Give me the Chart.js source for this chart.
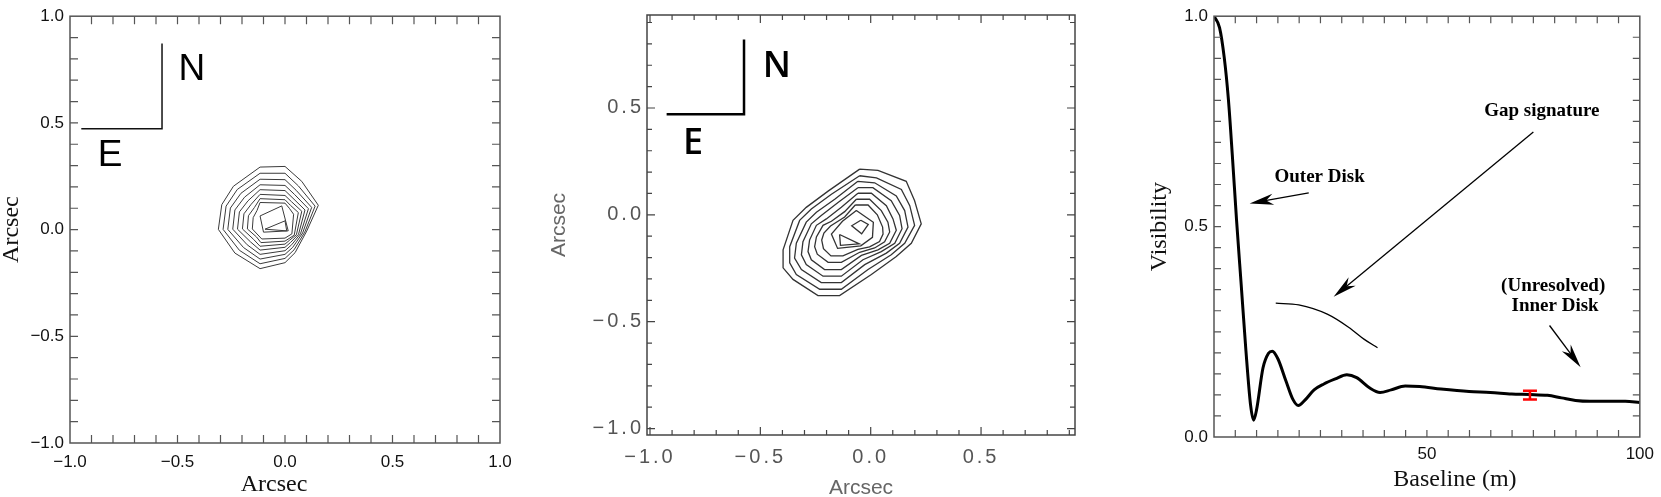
<!DOCTYPE html>
<html>
<head>
<meta charset="utf-8">
<title>Contour maps and visibility curve</title>
<script src="https://cdn.jsdelivr.net/npm/chart.js@4.4.1/dist/chart.umd.min.js"></script>
<style>
  html, body { margin: 0; padding: 0; background: #fff; }
  body { position: relative; width: 1661px; height: 497px; overflow: hidden; }
  canvas { position: absolute; top: 0; }
</style>
</head>
<body>
<canvas id="left" width="540" height="497" style="left:0"></canvas>
<canvas id="middle" width="540" height="497" style="left:540px"></canvas>
<canvas id="right" width="581" height="497" style="left:1080px"></canvas>
<script>
// ---- left map, arcsec ----
const leftTicks = [-1.0, -0.5, 0.0, 0.5, 1.0];
const leftMinor = [-0.9, -0.8, -0.7, -0.6, -0.5, -0.4, -0.3, -0.2, -0.1, 0.0,
                   0.1, 0.2, 0.3, 0.4, 0.5, 0.6, 0.7, 0.8, 0.9];
const leftContours = [
  [[-0.116, 0.293], [0, 0.296], [0.078, 0.226], [0.155, 0.114], [0.101, -0.007], [0.047, -0.108],
   [0, -0.155], [-0.116, -0.183], [-0.233, -0.110], [-0.310, 0.001], [-0.294, 0.117], [-0.240, 0.203]],
  [[-0.116, 0.264], [0, 0.264], [0.062, 0.205], [0.140, 0.110], [0.092, -0.012], [0.042, -0.095],
   [0, -0.135], [-0.116, -0.160], [-0.212, -0.097], [-0.288, 0.001], [-0.274, 0.110], [-0.222, 0.188]],
  [[-0.116, 0.236], [0, 0.234], [0.052, 0.184], [0.124, 0.104], [0.082, -0.016], [0.036, -0.083],
   [0, -0.116], [-0.116, -0.138], [-0.193, -0.084], [-0.266, 0.001], [-0.254, 0.101], [-0.205, 0.170]],
  [[-0.116, 0.210], [0, 0.207], [0.044, 0.165], [0.109, 0.098], [0.072, -0.020], [0.031, -0.071],
   [0, -0.099], [-0.116, -0.116], [-0.176, -0.071], [-0.243, 0.002], [-0.233, 0.092], [-0.188, 0.152]],
  [[-0.116, 0.187], [0, 0.183], [0.037, 0.147], [0.093, 0.092], [0.063, -0.022], [0.026, -0.060],
   [0, -0.083], [-0.116, -0.096], [-0.160, -0.058], [-0.221, 0.002], [-0.212, 0.083], [-0.172, 0.135]],
  [[-0.116, 0.165], [0, 0.160], [0.031, 0.130], [0.078, 0.086], [0.053, -0.024], [0.021, -0.050],
   [0, -0.068], [-0.116, -0.078], [-0.146, -0.046], [-0.198, 0.003], [-0.191, 0.074], [-0.157, 0.119]],
  [[-0.116, 0.145], [0, 0.140], [0.025, 0.114], [0.062, 0.080], [0.043, -0.026], [0, -0.054],
   [-0.112, -0.061], [-0.133, -0.034], [-0.175, 0.003], [-0.170, 0.065], [-0.142, 0.104]],
  [[-0.116, 0.127], [0, 0.124], [0.020, 0.100], [0.040, 0.072], [0.032, -0.020], [0, -0.040],
   [-0.108, -0.044], [-0.152, 0.003], [-0.148, 0.056], [-0.130, 0.090]],
  [[-0.116, 0.064], [-0.015, 0.111], [0.015, -0.006], [-0.100, -0.012]],
  [[-0.093, 0.002], [0, 0.041], [0.008, -0.006]]
];
const leftCompass = [[-0.944, 0.473], [-0.572, 0.473], [-0.572, 0.869]];
const leftCompassLabels = [['N', -0.433, 0.748], ['E', -0.814, 0.347]];

// ---- middle map, arcsec ----
const midTicks = [-1.0, -0.5, 0.0, 0.5];
const midMinor = [-1.0, -0.9, -0.8, -0.7, -0.6, -0.5, -0.4, -0.3, -0.2, -0.1, 0.0,
                  0.1, 0.2, 0.3, 0.4, 0.5, 0.6, 0.7, 0.8, 0.9];
const midContours = [
  [[-0.050, 0.214], [0.033, 0.208], [0.161, 0.157], [0.199, 0.066], [0.229, -0.042], [0.184, -0.133],
   [0.116, -0.195], [0.003, -0.279], [-0.141, -0.378], [-0.239, -0.378], [-0.352, -0.302], [-0.397, -0.248],
   [-0.397, -0.164], [-0.352, -0.026], [-0.292, 0.035], [-0.193, 0.111]],
  [[-0.050, 0.183], [0.026, 0.173], [0.139, 0.119], [0.177, 0.043], [0.199, -0.049], [0.154, -0.133],
   [0.093, -0.187], [-0.012, -0.256], [-0.133, -0.348], [-0.231, -0.348], [-0.337, -0.279], [-0.367, -0.225],
   [-0.367, -0.149], [-0.322, -0.026], [-0.269, 0.027], [-0.178, 0.096]],
  [[-0.058, 0.157], [0.018, 0.150], [0.116, 0.088], [0.154, 0.020], [0.169, -0.057], [0.131, -0.133],
   [0.071, -0.179], [-0.027, -0.233], [-0.133, -0.317], [-0.224, -0.317], [-0.314, -0.256], [-0.345, -0.202],
   [-0.337, -0.133], [-0.292, -0.034], [-0.246, 0.012], [-0.163, 0.073]],
  [[-0.058, 0.127], [0.010, 0.127], [0.093, 0.066], [0.131, -0.003], [0.142, -0.065], [0.109, -0.133],
   [0.048, -0.172], [-0.035, -0.210], [-0.133, -0.287], [-0.216, -0.287], [-0.292, -0.233], [-0.314, -0.187],
   [-0.307, -0.126], [-0.269, -0.042], [-0.224, -0.003], [-0.148, 0.058]],
  [[-0.058, 0.101], [0.003, 0.101], [0.071, 0.043], [0.101, -0.019], [0.116, -0.072], [0.086, -0.133],
   [0.033, -0.164], [-0.042, -0.190], [-0.133, -0.256], [-0.209, -0.256], [-0.269, -0.210], [-0.284, -0.172],
   [-0.277, -0.118], [-0.246, -0.049], [-0.201, -0.019], [-0.133, 0.035]],
  [[-0.065, 0.073], [-0.005, 0.073], [0.048, 0.020], [0.078, -0.034], [0.086, -0.080], [0.063, -0.126],
   [0.018, -0.155], [-0.050, -0.175], [-0.133, -0.222], [-0.193, -0.222], [-0.242, -0.184], [-0.254, -0.149],
   [-0.246, -0.103], [-0.216, -0.049], [-0.178, -0.030], [-0.118, 0.015]],
  [[-0.070, 0.046], [-0.012, 0.046], [0.030, 0.000], [0.054, -0.057], [0.056, -0.090], [0.040, -0.125],
   [-0.005, -0.150], [-0.058, -0.162], [-0.126, -0.192], [-0.180, -0.192], [-0.214, -0.158], [-0.222, -0.118],
   [-0.212, -0.085], [-0.182, -0.052], [-0.118, -0.010]],
  [[-0.065, 0.020], [0.012, -0.035], [0.008, -0.105], [-0.045, -0.145], [-0.150, -0.157], [-0.178, -0.090],
   [-0.128, -0.030]],
  [[-0.045, -0.025], [-0.011, -0.045], [-0.041, -0.089], [-0.086, -0.051]],
  [[-0.141, -0.092], [-0.052, -0.136], [-0.137, -0.143]]
];
const midCompass = [[-0.919, 0.471], [-0.574, 0.471], [-0.574, 0.815]];
const midCompassLabels = [['N', -0.425, 0.691], ['E', -0.805, 0.333]];

// ---- visibility versus baseline ----
const baseline = [0, 1.3, 2.4, 3.4, 4.3, 5.3, 6.4, 7.5, 8.6, 9.3, 10.0, 11.5, 12.8, 13.7, 15.0, 16.9,
  18.5, 19.8, 21.3, 23.5, 25.8, 28.5, 31.2, 33.5, 36.5, 39.0, 41.6, 44.9, 48.3, 53.3, 59.9, 64.9,
  69.9, 74.2, 78.3, 81.6, 84.9, 88.3, 93.3, 96.6, 100];
const visibility = [1.0, 0.973, 0.902, 0.80, 0.67, 0.515, 0.36, 0.205, 0.075, 0.040, 0.065, 0.164,
  0.199, 0.204, 0.186, 0.133, 0.090, 0.075, 0.087, 0.112, 0.126, 0.138, 0.148, 0.141, 0.117, 0.106,
  0.112, 0.121, 0.120, 0.114, 0.108, 0.106, 0.102, 0.101, 0.099, 0.093, 0.087, 0.085, 0.085, 0.085, 0.082];
const gapBaseline = [14.5, 19.9, 26.6, 31.6, 35.3, 38.4];
const gapVisibility = [0.318, 0.314, 0.292, 0.261, 0.232, 0.212];
const errBaseline = [74.2];
const errLow = [0.089];
const errHigh = [0.110];
const visXTicks = [50, 100];
const visYTicks = [0.0, 0.5, 1.0];
const visXMinor = [5, 10, 15, 20, 25, 30, 35, 40, 45, 50, 55, 60, 65, 70, 75, 80, 85, 90, 95];
const visYMinor = [0.05, 0.1, 0.15, 0.2, 0.25, 0.3, 0.35, 0.4, 0.45, 0.5,
                   0.55, 0.6, 0.65, 0.7, 0.75, 0.8, 0.85, 0.9, 0.95];
const visNotes = [
  ['Outer Disk', 24.8, 0.617],
  ['Gap signature', 77.0, 0.774],
  ['(Unresolved)', 79.65, 0.358],
  ['Inner Disk', 80.1, 0.310]
];
const visArrows = [
  [[22.25, 0.580], [8.37, 0.555]],
  [[75.0, 0.725], [28.1, 0.333]],
  [[78.8, 0.265], [86.1, 0.166]]
];

const SANS = '"Liberation Sans", Arial, Helvetica, sans-serif';
const SERIF = '"Liberation Serif", "Times New Roman", serif';
const fmt1 = v => v.toFixed(1).replace('-', '\u2212');

function toPoints(xs, ys) {
  return xs.map((x, i) => ({ x, y: ys[i] }));
}

function contourSets(list, color, width) {
  return list.map(poly => ({
    data: poly.concat([poly[0]]).map(([x, y]) => ({ x, y })),
    showLine: true, borderColor: color, borderWidth: width,
    pointRadius: 0, tension: 0, fill: false
  }));
}

function polyline(points, color, width) {
  return {
    data: points.map(([x, y]) => ({ x, y })),
    showLine: true, borderColor: color, borderWidth: width,
    pointRadius: 0, tension: 0, fill: false, borderCapStyle: 'square'
  };
}

function axis(o) {
  return {
    type: 'linear', min: o.min, max: o.max,
    grid: { display: false, drawTicks: false },
    border: { display: false },
    afterBuildTicks: s => { s.ticks = o.ticks.map(v => ({ value: v })); },
    afterFit: s => { if (o.horizontal) s.height = o.fit; else s.width = o.fit; },
    ticks: {
      autoSkip: false, maxRotation: 0, padding: o.pad, z: o.z || 0,
      font: o.font, color: o.color, callback: o.fmt
    },
    title: o.title || { display: false }
  };
}

// box with inward ticks on all four sides
const frame = {
  id: 'frame',
  afterDatasetsDraw(chart, args, o) {
    const { ctx, chartArea: a } = chart;
    const sx = chart.scales.x, sy = chart.scales.y;
    const isMajor = v => Math.abs(v / o.majorStep - Math.round(v / o.majorStep)) < 1e-6;
    ctx.save();
    ctx.strokeStyle = o.color;
    ctx.lineWidth = o.tickWidth;
    ctx.beginPath();
    o.xMinor.forEach(v => {
      const p = sx.getPixelForValue(v);
      const len = isMajor(v) ? o.majorLen : o.minorLen;
      ctx.moveTo(p, a.bottom); ctx.lineTo(p, a.bottom - len);
      ctx.moveTo(p, a.top); ctx.lineTo(p, a.top + len);
    });
    o.yMinor.forEach(v => {
      const p = sy.getPixelForValue(v);
      const len = isMajor(v) ? o.majorLen : o.minorLen;
      ctx.moveTo(a.left, p); ctx.lineTo(a.left + len, p);
      ctx.moveTo(a.right, p); ctx.lineTo(a.right - len, p);
    });
    ctx.stroke();
    ctx.lineWidth = o.width;
    ctx.strokeRect(a.left, a.top, a.right - a.left, a.bottom - a.top);
    ctx.restore();
  }
};

function drawArrow(ctx, x0, y0, x1, y1, head, half) {
  const ang = Math.atan2(y1 - y0, x1 - x0);
  const c = Math.cos(ang), s = Math.sin(ang);
  ctx.beginPath();
  ctx.moveTo(x0, y0);
  ctx.lineTo(x1 - head * 0.6 * c, y1 - head * 0.6 * s);
  ctx.stroke();
  ctx.beginPath();
  ctx.moveTo(x1, y1);
  ctx.lineTo(x1 - head * c - half * s, y1 - head * s + half * c);
  ctx.lineTo(x1 - head * 0.7 * c, y1 - head * 0.7 * s);
  ctx.lineTo(x1 - head * c + half * s, y1 - head * s - half * c);
  ctx.closePath();
  ctx.fill();
}

// labels, arrows, error bars and captions placed through the scales
const notes = {
  id: 'notes',
  beforeDraw(chart) {
    if ('letterSpacing' in chart.ctx) chart.ctx.letterSpacing = '0px';
  },
  afterDatasetsDraw(chart, args, o) {
    const { ctx, chartArea: a } = chart;
    const sx = chart.scales.x, sy = chart.scales.y;
    ctx.save();
    ctx.textAlign = 'center';
    ctx.textBaseline = 'middle';
    (o.labels || []).forEach(([text, x, y]) => {
      ctx.font = o.labelFont;
      ctx.fillStyle = o.labelColor || '#000';
      ctx.fillText(text, sx.getPixelForValue(x), sy.getPixelForValue(y));
    });
    ctx.strokeStyle = '#000';
    ctx.fillStyle = '#000';
    ctx.lineWidth = 1.3;
    (o.arrows || []).forEach(([p, q]) => {
      drawArrow(ctx, sx.getPixelForValue(p[0]), sy.getPixelForValue(p[1]),
        sx.getPixelForValue(q[0]), sy.getPixelForValue(q[1]), 24, 5.5);
    });
    if (o.errors) {
      const e = o.errors;
      ctx.strokeStyle = e.color;
      ctx.lineWidth = e.width;
      ctx.beginPath();
      e.x.forEach((x, i) => {
        const px = sx.getPixelForValue(x);
        const lo = sy.getPixelForValue(e.lo[i]), hi = sy.getPixelForValue(e.hi[i]);
        ctx.moveTo(px, lo); ctx.lineTo(px, hi);
        ctx.moveTo(px - e.cap, lo); ctx.lineTo(px + e.cap, lo);
        ctx.moveTo(px - e.cap, hi); ctx.lineTo(px + e.cap, hi);
      });
      ctx.stroke();
    }
    (o.captions || []).forEach(cap => {
      ctx.font = cap.font;
      ctx.fillStyle = cap.color;
      ctx.fillText(cap.text, (a.left + a.right) / 2 + cap.dx, cap.y);
    });
    ctx.restore();
    if (o.tickSpacing && 'letterSpacing' in ctx) ctx.letterSpacing = o.tickSpacing;
  },
  afterDraw(chart) {
    if ('letterSpacing' in chart.ctx) chart.ctx.letterSpacing = '0px';
  }
};

const base = {
  responsive: false,
  animation: false,
  events: [],
  plugins: { legend: { display: false }, tooltip: { enabled: false } }
};

// ---- left panel ----
new Chart(document.getElementById('left'), {
  type: 'scatter',
  data: {
    datasets: contourSets(leftContours, '#3a3a3a', 1)
      .concat([polyline(leftCompass, '#111', 1.5)])
  },
  options: {
    ...base,
    layout: { padding: { left: 0, right: 40, top: 14, bottom: 0 } },
    scales: {
      x: axis({ min: -1, max: 1, ticks: leftTicks, fmt: fmt1, horizontal: true, fit: 54, pad: 9,
        font: { family: SANS, size: 17 }, color: '#111' }),
      y: axis({ min: -1, max: 1, ticks: leftTicks, fmt: fmt1, fit: 70, pad: 6,
        font: { family: SANS, size: 17 }, color: '#111',
        title: { display: true, text: 'Arcsec', color: '#111',
          font: { family: SERIF, size: 24, lineHeight: 1 }, padding: { top: 0, bottom: 0 } } })
    },
    plugins: {
      ...base.plugins,
      frame: { color: '#555', width: 1.5, tickWidth: 1.2, xMinor: leftMinor, yMinor: leftMinor,
        majorStep: 0.5, majorLen: 8, minorLen: 8 },
      notes: {
        labels: leftCompassLabels, labelFont: '37px ' + SANS, labelColor: '#000',
        captions: [{ text: 'Arcsec', dx: -11, y: 485, font: '24px ' + SERIF, color: '#111' }]
      }
    }
  },
  plugins: [frame, notes]
});

// ---- middle panel ----
new Chart(document.getElementById('middle'), {
  type: 'scatter',
  data: {
    datasets: contourSets(midContours, '#333', 1.3)
      .concat([polyline(midCompass, '#000', 2.5)])
  },
  options: {
    ...base,
    layout: { padding: { left: 0, right: 5, top: 7, bottom: 0 } },
    scales: {
      x: axis({ min: -1.0136, max: 0.9257, ticks: midTicks, fmt: fmt1, horizontal: true, fit: 62, pad: 10, z: 1,
        font: { family: SANS, size: 20 }, color: '#555',
        title: { display: true, text: 'Arcsec', color: '#666',
          font: { family: SANS, size: 21, lineHeight: 1 }, padding: { top: 0, bottom: -1.5 } } }),
      y: axis({ min: -1.030, max: 0.935, ticks: midTicks, fmt: fmt1, fit: 107, pad: 3, z: 1,
        font: { family: SANS, size: 20 }, color: '#555',
        title: { display: true, text: 'Arcsec', color: '#666',
          font: { family: SANS, size: 21, lineHeight: 1 }, padding: { top: 9, bottom: 0 } } })
    },
    plugins: {
      ...base.plugins,
      frame: { color: '#444', width: 1.5, tickWidth: 1.2, xMinor: midMinor, yMinor: midMinor,
        majorStep: 0.5, majorLen: 8, minorLen: 5 },
      notes: {
        labels: midCompassLabels, labelFont: '600 36px "Open Sans", ' + SANS, labelColor: '#000',
        tickSpacing: '3px'
      }
    }
  },
  plugins: [frame, notes]
});

// ---- right panel ----
new Chart(document.getElementById('right'), {
  type: 'scatter',
  data: {
    datasets: [
      { data: toPoints(baseline, visibility), showLine: true, borderColor: '#000', borderWidth: 3,
        pointRadius: 0, cubicInterpolationMode: 'monotone', fill: false },
      { data: toPoints(gapBaseline, gapVisibility), showLine: true, borderColor: '#000', borderWidth: 1.3,
        pointRadius: 0, cubicInterpolationMode: 'monotone', fill: false }
    ]
  },
  options: {
    ...base,
    layout: { padding: { left: 68, right: 17, top: 8, bottom: 0 } },
    scales: {
      x: axis({ min: 0, max: 100, ticks: visXTicks, fmt: v => String(v), horizontal: true, fit: 60, pad: 7,
        font: { family: SANS, size: 17 }, color: '#111' }),
      y: axis({ min: 0, max: 1, ticks: visYTicks, fmt: fmt1, fit: 66, pad: 6,
        font: { family: SANS, size: 17 }, color: '#111',
        title: { display: true, text: 'Visibility', color: '#111',
          font: { family: SERIF, size: 24, lineHeight: 1 }, padding: { top: 0, bottom: 0 } } })
    },
    plugins: {
      ...base.plugins,
      frame: { color: '#555', width: 1.5, tickWidth: 1.2, xMinor: visXMinor, yMinor: visYMinor,
        majorStep: 50, majorLen: 7, minorLen: 7 },
      notes: {
        labels: visNotes, labelFont: 'bold 19px ' + SERIF, labelColor: '#000',
        arrows: visArrows,
        errors: { x: errBaseline, lo: errLow, hi: errHigh, color: '#ff0000', width: 2.5, cap: 7 },
        captions: [{ text: 'Baseline (m)', dx: 28, y: 480, font: '24px ' + SERIF, color: '#111' }]
      }
    }
  },
  plugins: [frame, notes]
});
</script>
</body>
</html>
